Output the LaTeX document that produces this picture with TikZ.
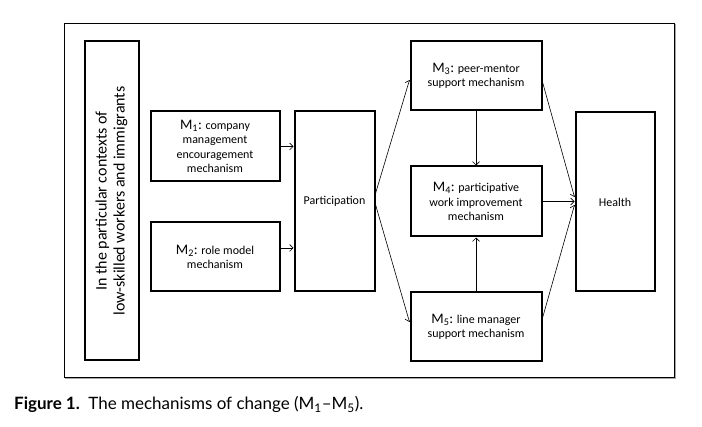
\documentclass[tikz,border=0pt]{standalone}
\usepackage{fontspec}
\setmainfont{Carlito}
\newfontfamily\capfont{Lato}
\usetikzlibrary{arrows.meta}
\newcommand{\Mbig}[1]{{\fontsize{14.5}{14.3}\selectfont M\textsubscript{#1}:}}
\begin{document}
\begin{tikzpicture}[x=1pt,y=-1pt,
  box/.style={draw, line width=2pt, align=center, inner sep=2pt, font=\fontsize{12}{14.3}\selectfont},
  arr/.style={-{Straight Barb[length=3.5pt,width=7pt]}, line width=0.6pt}]
\useasboundingbox (0,0) rectangle (702,427);
\fill[white] (0,0) rectangle (702,427);
% outer frame
\draw[gray!70, line width=1.4pt] (65,378.4) -- (675.4,378.4) -- (675.4,24);
\draw[line width=0.8pt] (64,23) rectangle (674,377);
% context box
\node[box, minimum width=54pt, minimum height=319pt] (ctx) at (111.5,201) {};
\node[rotate=90, align=center, inner sep=0, font=\fontsize{16}{18}\selectfont] (ctxt) at (ctx.center) {In the particular contexts of\\low-skilled workers and immigrants};
% boxes
\node[box, minimum width=129pt, minimum height=70pt] (M1) at (215,146.5) {\Mbig{1} company\\management\\encouragement\\mechanism};
\node[box, minimum width=129pt, minimum height=69pt] (M2) at (215,257) {\Mbig{2} role model\\mechanism};
\node[box, minimum width=80pt, minimum height=180pt] (P) at (334.5,201.5) {Participation};
\node[box, minimum width=131pt, minimum height=69pt] (M3) at (476,76) {\Mbig{3} peer-mentor\\support mechanism};
\node[box, minimum width=131pt, minimum height=70pt] (M4) at (476,201.5) {\Mbig{4} participative\\work improvement\\mechanism};
\node[box, minimum width=131pt, minimum height=69pt] (M5) at (476,327) {\Mbig{5} line manager\\support mechanism};
\node[box, minimum width=79pt, minimum height=179pt] (H) at (615,202) {Health};
% connectors
\draw[arr] (M1.east) -- (M1.east -| P.west);
\draw[arr] ([yshift=9pt]M2.east) -- ([yshift=9pt]M2.east -| P.west);
\draw[arr] ([yshift=8pt]P.east) -- ([yshift=-4pt]M3.west);
\draw[arr] ([yshift=-3pt]P.east) -- ([yshift=5pt]M5.west);
\draw[arr] (M3.south) -- (M4.north);
\draw[arr] (M5.north) -- (M4.south);
\draw[arr] (M4.east) -- (M4.east -| H.west);
\draw[arr] ([yshift=-6pt]M3.east) -- ([yshift=5pt]H.west);
\draw[arr] ([yshift=9pt]M5.east) -- ([yshift=-3pt]H.west);
% caption
\node[anchor=base west, inner sep=0, font=\capfont\fontsize{17}{20}\selectfont] (cap) at (14,410) {\textbf{Figure 1.}\hspace{0.5em}The mechanisms of change (M\textsubscript{1}–M\textsubscript{5}).};
\end{tikzpicture}
\end{document}
